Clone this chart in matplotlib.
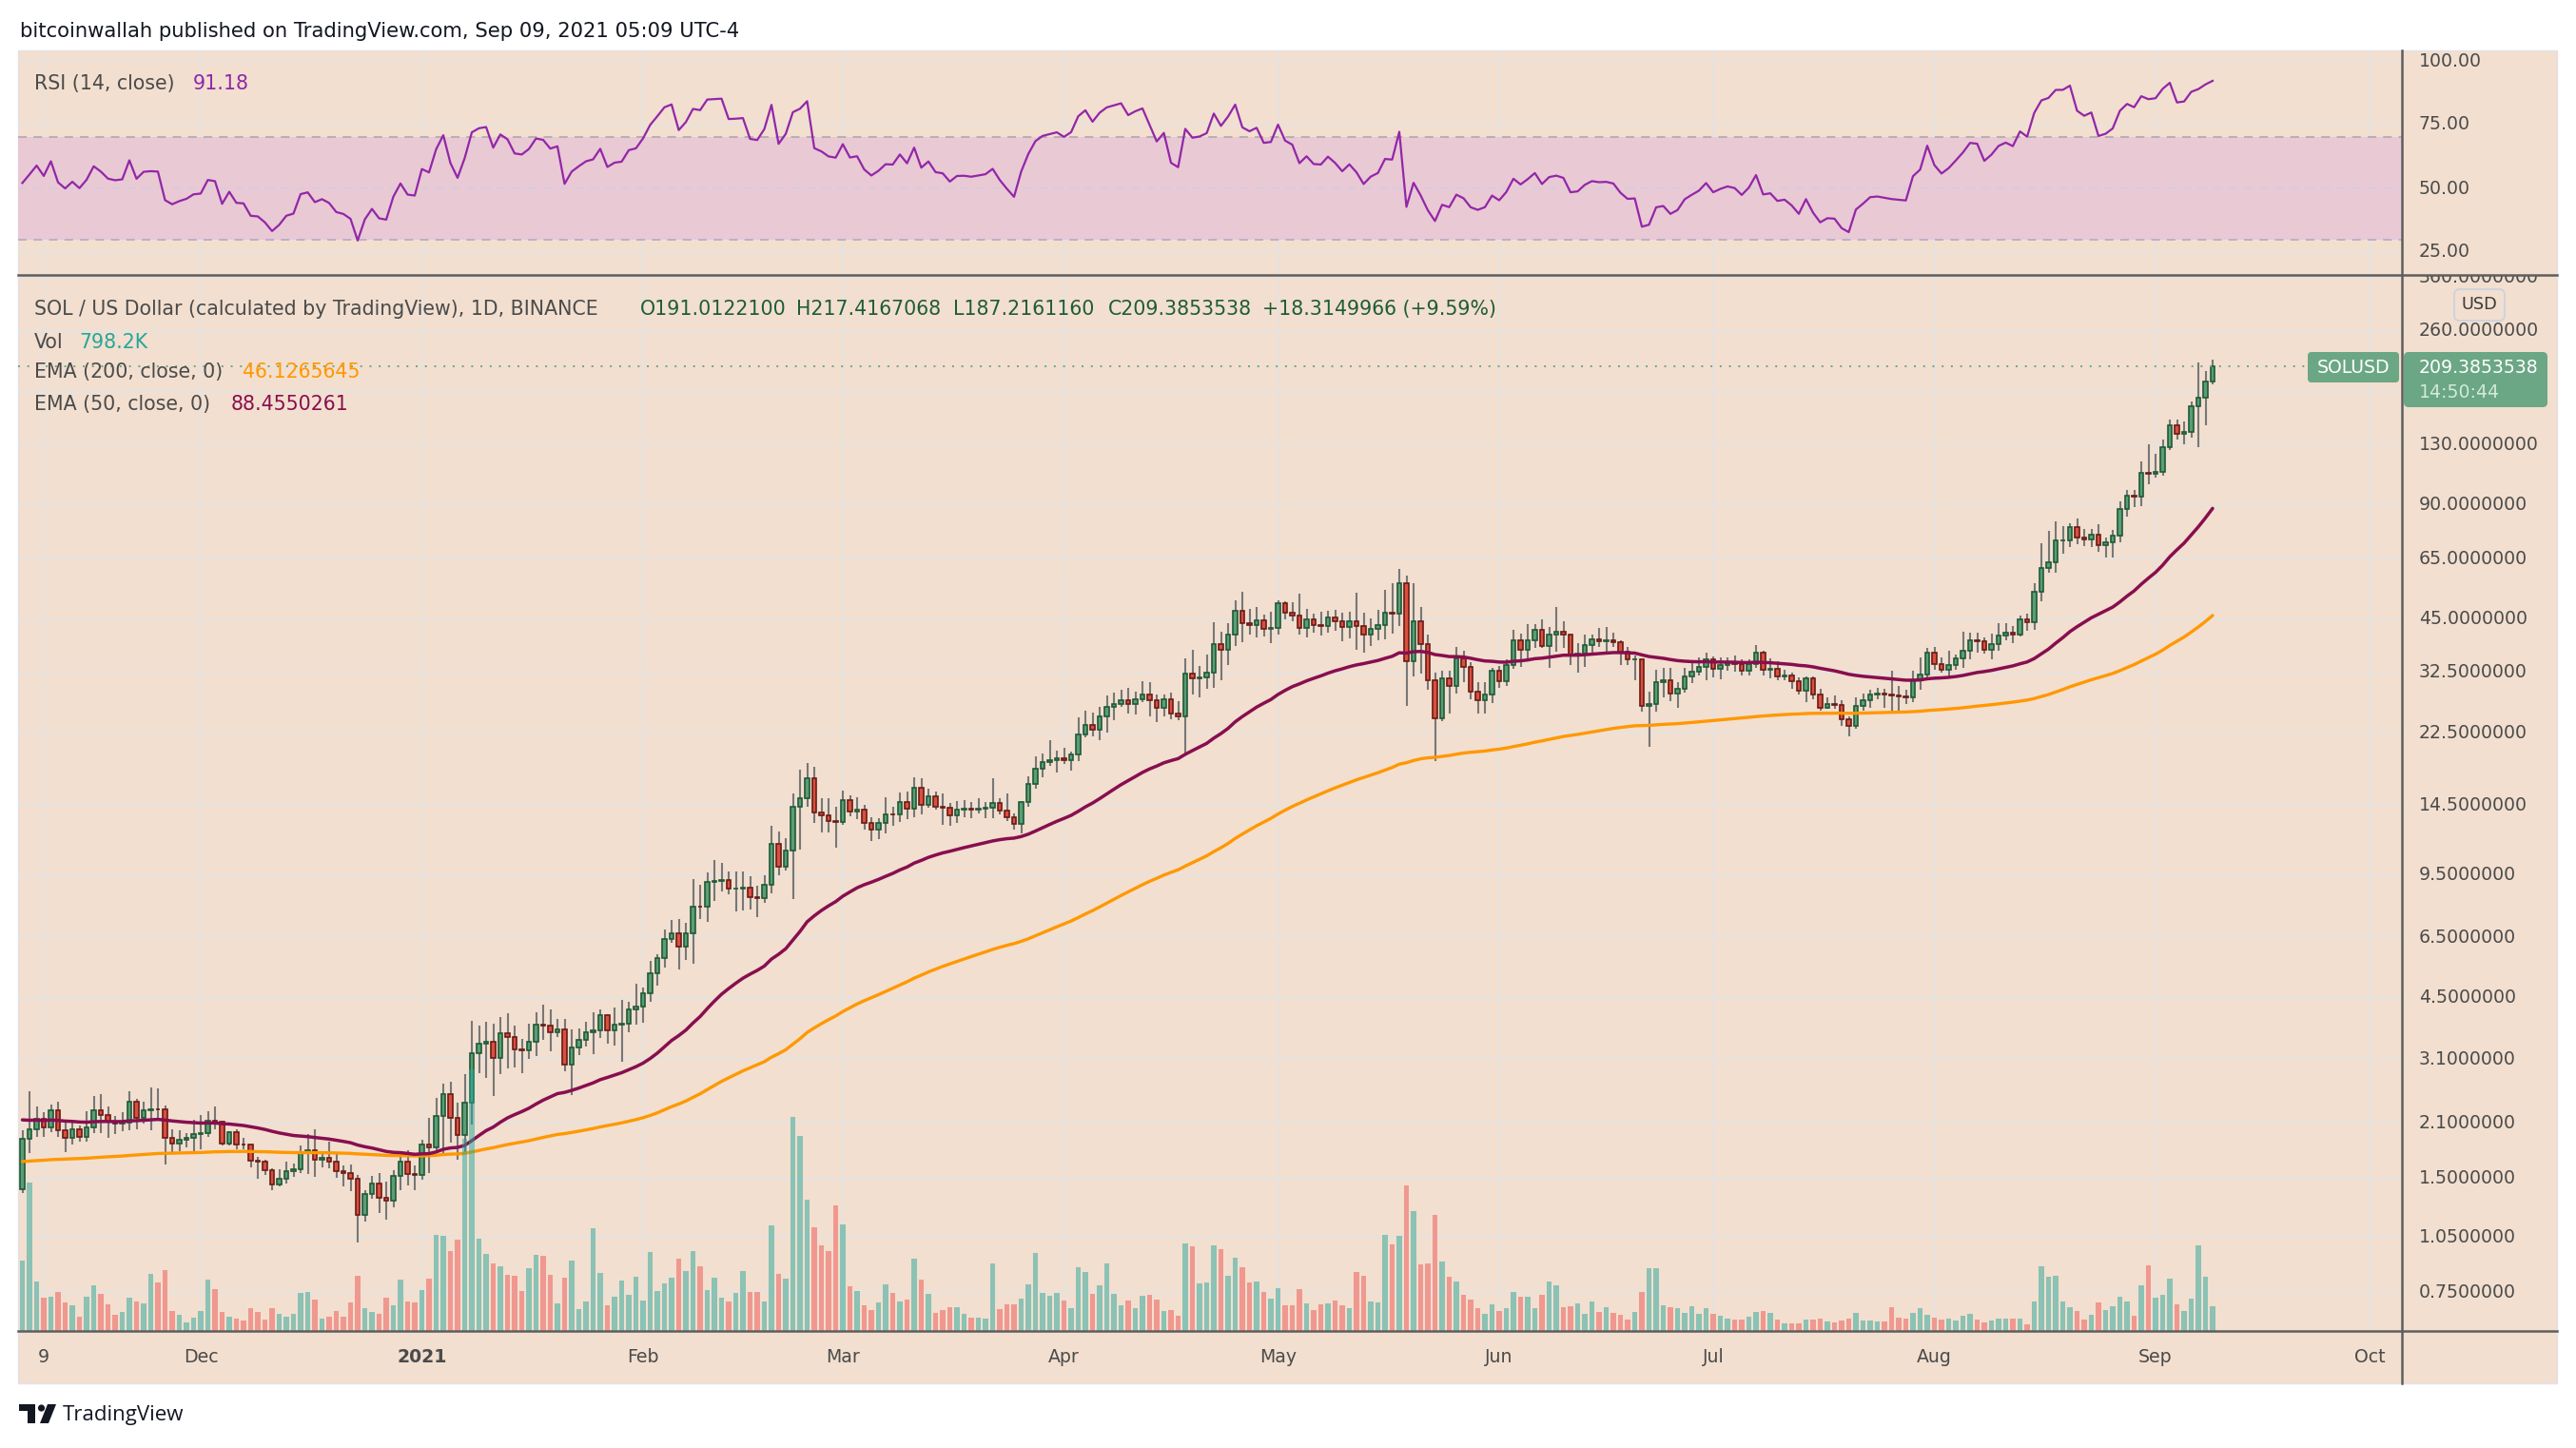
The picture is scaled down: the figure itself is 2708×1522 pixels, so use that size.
import numpy as np
import pandas as pd
import matplotlib
matplotlib.use("Agg")
import matplotlib.pyplot as plt
import matplotlib.dates as mdates
import matplotlib.transforms as mtransforms
from matplotlib import font_manager as fm
from matplotlib.lines import Line2D
from matplotlib.patches import Rectangle, FancyBboxPatch, Circle, Polygon

W, H = 2708, 1522

def have(name):
    try:
        fm.findfont(fm.FontProperties(family=name), fallback_to_default=False)
        return True
    except Exception:
        return False

if have("Liberation Sans Narrow"):
    FONT, FS = "Liberation Sans Narrow", 1.0
else:
    FONT, FS = "DejaVu Sans", 0.8
plt.rcParams['font.family'] = [FONT, 'DejaVu Sans']

# ---------------- data (SOL/USD daily, Binance) ----------------
START = "2020-11-06"
FIRST_OPEN = 1.404
CLOSE = [1.905, 2.025, 2.159, 2.041, 2.274, 2.006, 1.919, 2.017, 1.93, 2.049, 2.265, 2.2, 2.113,
         2.093, 2.105, 2.384, 2.167, 2.274, 2.283, 2.279, 1.919, 1.857, 1.893,
         1.919, 1.968, 1.976, 2.125, 2.113, 1.857, 1.987, 1.847, 1.84, 1.671,
         1.662, 1.577, 1.443, 1.494, 1.57, 1.588, 1.763, 1.78, 1.677, 1.703,
         1.664, 1.568, 1.547, 1.494, 1.199, 1.362, 1.454, 1.33, 1.312, 1.52,
         1.664, 1.538, 1.527, 1.847, 1.811, 2.188, 2.505, 2.167, 1.949, 2.374,
         3.217, 3.396, 3.45, 3.113, 3.627, 3.54, 3.28, 3.26, 3.436, 3.813,
         3.79, 3.647, 3.72, 2.99, 3.33, 3.49, 3.64, 3.70, 4.04, 3.68,
         3.81, 3.84, 4.2, 4.26, 4.616, 5.23, 5.74, 6.42, 6.67, 6.14,
         6.67, 7.84, 7.81, 9.10, 9.17, 9.23, 8.72, 8.75, 8.8, 8.28,
         8.25, 8.94, 11.49, 9.98, 11.01, 14.40, 15.17, 17.13, 13.88, 13.61,
         13.2, 13.1, 14.99, 13.93, 14.1, 13.02, 12.5, 13.0, 13.72, 13.7,
         14.82, 14.2, 16.1, 14.54, 15.29, 14.4, 14.3, 13.61, 14.15, 14.17,
         14.1, 14.2, 14.3, 14.71, 14.05, 13.49, 12.95, 14.76, 16.48, 18.08,
         18.83, 19.1, 19.35, 19.1, 19.72, 22.35, 23.67, 23.0, 24.94, 26.34,
         26.9, 27.5, 26.8, 27.7, 28.4, 27.4, 26.3, 27.7, 25.3, 24.9,
         32.24, 31.3, 31.6, 32.4, 38.7, 37.3, 40.9, 47.2, 43.9, 43.3,
         44.7, 42.4, 42.7, 49.5, 46.8, 46.1, 42.65, 44.8, 43.3, 43.2,
         45.4, 44.3, 42.8, 44.5, 43.1, 40.9, 42.5, 43.3, 46.7, 46.6,
         55.8, 34.9, 44.3, 38.7, 31.1, 24.6, 31.3, 29.96, 35.4, 33.6,
         28.9, 27.5, 28.5, 32.9, 30.8, 33.96, 39.5, 37.3, 39.5, 42.1,
         38.2, 41.0, 41.6, 40.9, 36.1, 36.4, 38.5, 39.7, 39.4, 39.5,
         39.1, 36.8, 35.2, 35.3, 26.5, 26.9, 30.7, 31.0, 28.6, 29.4,
         31.7, 32.7, 33.6, 35.3, 33.3, 34.0, 34.5, 34.2, 32.9, 34.2,
         36.6, 33.0, 33.2, 31.7, 31.9, 30.8, 29.1, 31.3, 28.5, 26.2,
         26.8, 26.7, 24.5, 23.5, 26.6, 27.5, 28.5, 28.6, 28.4, 28.2,
         28.1, 28.0, 31.1, 32.1, 36.7, 34.2, 33.0, 34.0, 35.5, 37.2,
         39.5, 39.4, 37.3, 38.6, 40.6, 41.4, 41.0, 44.8, 44.2, 53.2,
         61.5, 63.7, 72.5, 72.6, 78.6, 73.9, 72.9, 75.3, 70.4, 71.6,
         74.6, 87.9, 95.5, 94.7, 109.7, 108.9, 110.3, 128.0, 145.9, 138.8,
         140.6, 163.8, 172.6, 191.01221, 209.3853538]
HIGH = [2.006, 2.543, 2.318, 2.239, 2.35, 2.386, 2.146, 2.117, 2.073, 2.25, 2.471, 2.505, 2.318,
        2.196, 2.239, 2.543, 2.43, 2.384, 2.603, 2.588, 2.331, 2.017, 2.006,
        1.98, 2.138, 2.2, 2.261, 2.318, 2.125, 2.002, 2.025, 1.919, 1.84,
        1.71, 1.677, 1.592, 1.582, 1.662, 1.64, 1.833, 1.968, 2.025, 1.763,
        1.875, 1.736, 1.623, 1.633, 1.527, 1.4, 1.52, 1.547, 1.474, 1.577,
        1.77, 1.78, 1.623, 1.893, 2.167, 2.443, 2.666, 2.699, 2.379, 2.826,
        3.902, 3.79, 3.88, 3.85, 4.0, 4.087, 3.79, 3.5, 3.85, 4.13,
        4.313, 4.19, 3.95, 3.95, 3.72, 3.74, 3.89, 4.13, 4.2, 4.07,
        4.23, 4.44, 4.39, 4.89, 4.79, 5.63, 5.87, 6.83, 7.23, 7.27,
        7.09, 9.27, 8.95, 9.63, 10.39, 10.23, 9.67, 9.7, 9.7, 9.43,
        8.9, 9.5, 12.8, 12.35, 11.9, 15.6, 18.0, 18.7, 18.3, 15.1,
        15.1, 14.4, 15.9, 15.4, 15.2, 14.5, 13.5, 13.4, 15.2, 14.4,
        15.7, 15.8, 17.15, 17.1, 16.05, 15.8, 15.6, 14.7, 14.9, 15.0,
        14.8, 15.1, 14.8, 17.1, 15.1, 15.6, 13.8, 14.9, 17.3, 19.5,
        19.9, 21.5, 20.2, 20.6, 20.1, 24.8, 25.8, 25.5, 26.4, 28.3,
        28.7, 29.2, 29.6, 29.0, 30.8, 30.6, 28.5, 28.5, 28.7, 27.3,
        35.4, 37.3, 33.8, 36.2, 44.1, 41.6, 44.0, 50.5, 53.1, 47.8,
        48.3, 46.2, 47.0, 50.5, 50.2, 49.9, 52.4, 47.9, 46.5, 47.0,
        47.4, 47.7, 46.8, 47.0, 52.9, 46.8, 45.2, 47.7, 53.6, 56.0,
        61.2, 58.6, 55.8, 48.3, 41.0, 32.4, 32.9, 32.9, 38.0, 37.1,
        34.7, 30.7, 30.7, 33.5, 33.8, 35.2, 42.2, 41.2, 43.6, 43.6,
        44.9, 43.0, 48.3, 44.3, 40.9, 38.9, 40.9, 41.0, 42.6, 42.8,
        41.4, 39.5, 38.0, 36.0, 35.3, 29.0, 33.1, 33.4, 33.4, 30.7,
        33.4, 34.9, 35.6, 36.7, 35.9, 35.6, 35.6, 36.0, 35.2, 35.2,
        38.5, 37.2, 35.4, 34.8, 33.0, 32.4, 31.5, 31.7, 31.7, 29.4,
        27.9, 28.3, 27.4, 24.9, 27.9, 28.6, 29.2, 29.7, 29.4, 32.8,
        30.0, 29.2, 32.8, 35.6, 37.8, 37.9, 35.6, 37.1, 36.2, 41.6,
        41.5, 41.5, 40.2, 41.1, 44.0, 43.8, 43.2, 46.1, 46.6, 56.1,
        71.4, 76.9, 81.5, 79.2, 80.7, 83.1, 77.6, 77.6, 80.2, 73.9,
        77.2, 92.3, 98.7, 98.7, 117.2, 130.0, 122.9, 133.7, 151.6, 151.6,
        150.0, 169.3, 214.3, 202.9, 217.4167068]
LOW = [1.369, 1.753, 1.93, 1.93, 1.987, 1.926, 1.763, 1.847, 1.875, 1.875, 1.98, 1.98, 1.922,
       1.968, 1.995, 2.013, 2.017, 2.097, 2.013, 2.125, 1.629, 1.763, 1.77,
       1.815, 1.753, 1.793, 1.93, 2.025, 1.833, 1.833, 1.793, 1.787, 1.601,
       1.494, 1.527, 1.4, 1.426, 1.454, 1.512, 1.547, 1.538, 1.512, 1.607,
       1.592, 1.504, 1.432, 1.39, 1.017, 1.151, 1.325, 1.215, 1.165, 1.26,
       1.4, 1.44, 1.4, 1.488, 1.547, 1.77, 1.72, 1.868, 1.677, 1.736,
       2.085, 2.85, 2.77, 2.48, 2.82, 2.93, 2.94, 2.85, 3.096, 3.15,
       3.49, 3.25, 3.54, 2.875, 2.49, 3.17, 3.34, 3.19, 3.53, 3.40,
       3.37, 3.05, 3.65, 3.83, 3.86, 4.38, 4.84, 5.4, 6.3, 5.34,
       5.65, 5.52, 7.27, 7.12, 8.09, 8.6, 8.44, 7.62, 7.63, 7.7,
       7.35, 8.0, 8.48, 9.5, 9.75, 8.2, 11.1, 14.4, 13.0, 12.3,
       12.3, 11.2, 12.9, 13.6, 13.3, 12.5, 11.7, 11.8, 12.2, 12.8,
       13.1, 13.3, 13.45, 13.7, 14.3, 14.1, 12.9, 12.8, 13.0, 13.45,
       13.4, 13.8, 13.4, 13.4, 13.7, 13.15, 12.5, 12.2, 14.4, 16.0,
       17.2, 18.4, 17.7, 18.6, 17.9, 18.95, 21.9, 22.0, 21.6, 22.6,
       24.3, 26.4, 25.3, 25.2, 27.1, 24.9, 24.0, 24.9, 24.5, 24.3,
       19.7, 28.5, 27.9, 29.4, 29.6, 31.0, 34.0, 38.2, 39.2, 41.0,
       40.2, 40.4, 38.9, 41.0, 45.0, 44.5, 41.0, 40.2, 41.5, 40.8,
       41.5, 41.8, 39.4, 40.1, 37.4, 36.6, 38.1, 39.6, 39.7, 41.3,
       43.1, 26.6, 31.7, 32.3, 29.2, 19.0, 24.2, 25.4, 28.6, 30.7,
       27.6, 25.4, 25.3, 27.0, 29.6, 29.9, 33.3, 33.6, 35.2, 37.8,
       37.8, 33.5, 36.9, 37.8, 34.0, 32.5, 33.6, 36.5, 38.0, 36.4,
       38.0, 34.0, 34.0, 31.0, 25.6, 20.7, 25.6, 28.0, 27.3, 26.2,
       28.8, 30.4, 32.0, 31.0, 31.5, 31.2, 32.9, 32.7, 32.0, 32.0,
       33.5, 32.0, 31.4, 31.0, 31.0, 29.5, 28.4, 27.1, 27.6, 25.8,
       26.0, 26.1, 23.5, 22.0, 23.1, 25.8, 26.3, 27.7, 26.3, 25.8,
       25.6, 26.8, 27.2, 29.2, 31.1, 33.0, 32.5, 31.7, 33.0, 33.4,
       35.3, 36.7, 36.5, 35.3, 37.1, 39.5, 38.9, 40.4, 42.0, 42.2,
       50.1, 59.5, 59.5, 66.9, 69.7, 70.9, 70.2, 69.7, 67.7, 65.4,
       65.6, 71.8, 84.1, 89.1, 89.6, 102.0, 106.6, 107.6, 125.6, 134.0,
       130.6, 135.8, 128.0, 145.9, 187.2161160]
VOLUME_K = [2272, 4789, 1596, 1075, 1105, 1259, 921, 829, 461, 1105, 1474, 1197, 860, 522, 614, 1075,
            952, 890, 1842, 1566, 1965, 645, 522, 276, 430, 645, 1658, 1351, 614, 461, 399, 338,
            737, 614, 368, 737, 553, 461, 553, 1228, 1259, 1013, 399, 461, 645, 461, 921, 1781,
            737, 614, 553, 1075, 829, 1658, 952, 921, 1320, 1689, 3101, 3070, 2579, 2947, 6201, 8443,
            2978, 2487, 2180, 2088, 1811, 1781, 1289, 2026, 2456, 2425,
            1811, 890, 1719, 2272, 706, 952, 3316, 1873, 829, 1105,
            1627, 1167, 1750, 982, 2548, 1289, 1535, 1719, 2333, 1934,
            2579, 2088, 1320, 1719, 1075, 952, 1228, 1934, 1259, 1259,
            952, 3408, 1842, 1689, 6908, 6294, 4237, 3346, 2763, 2579,
            4052, 3438, 1443, 1289, 829, 675, 921, 1504, 1228, 952,
            1013, 2333, 1658, 1197, 583, 675, 768, 768, 553, 430,
            430, 399, 2180, 706, 860, 860, 1044, 1504, 2517, 1228,
            1136, 1228, 982, 737, 2057, 1903, 1197, 1474, 2180, 1197,
            829, 982, 737, 1136, 1167, 1013, 645, 675, 491, 2824,
            2732, 1535, 1566, 2763, 2640, 1781, 2364, 2057, 1566, 1596,
            1259, 1044, 1382, 829, 829, 1351, 890, 675, 860, 890, 982,
            829, 737, 1903, 1781, 952, 921, 3101, 2794, 3070, 4697,
            3868, 2149, 2180, 3745, 2241, 1750, 1596, 1167, 1013, 737,
            553, 860, 645, 737, 1259, 1105, 1105, 737, 1167, 1596,
            1474, 768, 798, 890, 553, 952, 614, 768, 583, 522,
            368, 614, 1259, 2026, 2026, 829, 768, 737, 583, 798,
            553, 737, 553, 491, 399, 368, 368, 461, 614, 645,
            583, 368, 246, 246, 246, 368, 368, 399, 307, 276,
            338, 399, 583, 338, 338, 307, 307, 768, 430, 399,
            583, 737, 522, 430, 368, 399, 338, 491, 553, 368,
            276, 338, 399, 399, 399, 399, 215, 952, 2088, 1750,
            1781, 952, 768, 645, 368, 522, 921, 675, 798, 1105,
            952, 491, 1474, 2118, 1075, 1167, 1689, 860, 645, 1044,
            2763, 1750, 798]
EMA200_SEED, EMA50_SEED = 1.66, 2.15
RSI_SEED_GAIN, RSI_SEED_LOSS = 0.03, 0.063

PRICE_TICKS = [360, 260, 180, 130, 90, 65, 45, 32.5, 22.5, 14.5, 9.5, 6.5, 4.5, 3.1, 2.1, 1.5, 1.05, 0.75]
HIDDEN_LABELS = [180]          # label sits under the price badge
RSI_TICKS = [100, 75, 50, 25]
TIME_TICKS = [("2020-11-09", "9"), ("2020-12-01", "Dec"), ("2021-01-01", "2021"), ("2021-02-01", "Feb"),
              ("2021-03-01", "Mar"), ("2021-04-01", "Apr"), ("2021-05-01", "May"), ("2021-06-01", "Jun"),
              ("2021-07-01", "Jul"), ("2021-08-01", "Aug"), ("2021-09-01", "Sep"), ("2021-10-01", "Oct")]

# ---------------- colours ----------------
BG = "#F2DFCF"; GRID = "#E6E2DF"; SEP = "#5E5E5E"; TXT = "#4B4B4B"
UP_FILL, UP_EDGE = "#5B9D76", "#1E5A36"
DN_FILL, DN_EDGE = "#D9503F", "#6B1A16"
WICK = "#777777"
EMA50_C, EMA200_C = "#880E4F", "#FF9800"
RSI_C = "#9326A8"; BAND = "#E8C9D4"
VOL_UP = (38/255, 166/255, 154/255, 0.5); VOL_DN = (239/255, 83/255, 80/255, 0.5)
PRICE_GREEN = "#6BA784"

# ---------------- indicators ----------------
def ema(vals, n, seed):
    a = 2 / (n + 1); e = seed; out = []
    for v in vals:
        e += a * (v - e); out.append(e)
    return np.array(out)

def rsi(vals, prev, n, g, l):
    out = []
    for v in vals:
        d = v - prev; prev = v
        g = (g * (n - 1) + max(d, 0)) / n
        l = (l * (n - 1) + max(-d, 0)) / n
        out.append(100 - 100 / (1 + g / l))
    return np.array(out)

dates = pd.date_range(START, periods=len(CLOSE), freq="D")
x = mdates.date2num(dates)
c = np.array(CLOSE)
o = np.array([FIRST_OPEN] + CLOSE[:-1])
h = np.maximum.reduce([np.array(HIGH), o, c])
l = np.minimum.reduce([np.array(LOW), o, c])
up = c >= o
e200 = ema(CLOSE, 200, EMA200_SEED)
e50 = ema(CLOSE, 50, EMA50_SEED)
r14 = rsi(CLOSE, FIRST_OPEN, 14, RSI_SEED_GAIN, RSI_SEED_LOSS)

# ---------------- layout (pixel geometry of the screenshot) ----------------
fig = plt.figure(figsize=(W / 100, H / 100), dpi=100, facecolor="white")
PX = mtransforms.Affine2D().scale(1 / W, -1 / H).translate(0, 1) + fig.transFigure

def px_axes(x0, y0, x1, y1):
    a = fig.add_axes([x0 / W, 1 - y1 / H, (x1 - x0) / W, (y1 - y0) / H])
    a.axis("off")
    return a

L, R, AXR = 19, 2525, 2688
TOP, MID, BOT, FOOT = 53, 289, 1399, 1454
fig.add_artist(Rectangle((L, TOP), AXR - L, FOOT - TOP, transform=PX, fc=BG, ec="#E3E1E4", lw=1, zorder=-10))

X9 = mdates.date2num(pd.Timestamp("2020-11-09"))
XLIM = (X9 + (L - 46) / 7.5, X9 + (R - 46) / 7.5)
# log price scale: 260 at y=347.5, 398 px per decade
YLIM = (260 * 10 ** (-(BOT - 347.5) / 398), 260 * 10 ** ((347.5 - MID) / 398))
RLIM = (25 - (MID - 265) / 2.68, 100 + (64 - TOP) / 2.68)

ax_r = px_axes(L, TOP, R, MID)
ax = px_axes(L, MID, R, BOT)
ax_v = ax.twinx(); ax_v.axis("off")
for a in (ax_r, ax, ax_v):
    a.set_xlim(*XLIM)
ax.set_yscale("log"); ax.set_ylim(*YLIM)
ax_r.set_ylim(*RLIM)
ax_v.set_ylim(0, (BOT - MID) * 30.7)

tick_x = [mdates.date2num(pd.Timestamp(d)) for d, _ in TIME_TICKS]
for a in (ax_r, ax):
    for tx in tick_x:
        a.axvline(tx, color=GRID, lw=1.5, zorder=0)
for p in PRICE_TICKS:
    ax.axhline(p, color=GRID, lw=1.5, zorder=0)
for v in RSI_TICKS:
    ax_r.axhline(v, color=GRID, lw=1.5, zorder=0)

# RSI pane
ax_r.axhspan(30, 70, color=BAND, lw=0, zorder=0.5)
ax_r.axhline(70, color="#B3ABAE", lw=1.3, ls=(0, (5, 4)), zorder=1)
ax_r.axhline(50, color="#D9CCDF", lw=1.3, ls=(0, (5, 4)), zorder=1)
ax_r.axhline(30, color="#B7AEC9", lw=1.3, ls=(0, (5, 4)), zorder=1)
ax_r.plot(x, r14, color=RSI_C, lw=1.6, zorder=3)

# candles
ax.vlines(x, l, h, color=WICK, lw=1.5, zorder=2)
lo, hi = np.minimum(o, c), np.maximum(o, c)
ax.bar(x[up], (hi - lo)[up], bottom=lo[up], width=0.58, color=UP_FILL, edgecolor=UP_EDGE, lw=1.2, zorder=3)
ax.bar(x[~up], (hi - lo)[~up], bottom=lo[~up], width=0.58, color=DN_FILL, edgecolor=DN_EDGE, lw=1.2, zorder=3)
ax.plot(x, e200, color=EMA200_C, lw=2.4, zorder=4, solid_capstyle="round")
ax.plot(x, e50, color=EMA50_C, lw=2.5, zorder=4, solid_capstyle="round")
ax.axhline(CLOSE[-1], xmax=(2426 - L) / (R - L), color=PRICE_GREEN, lw=1.4, ls=(0, (1, 4)), zorder=4)
ax_v.bar(x, VOLUME_K, width=0.7, color=[VOL_UP if u else VOL_DN for u in up], lw=0)

# price scale / rsi scale labels
ax_ps = px_axes(R, MID, AXR, BOT); ax_ps.set_yscale("log"); ax_ps.set_ylim(*YLIM); ax_ps.set_xlim(0, AXR - R)
for p in PRICE_TICKS:
    if p in HIDDEN_LABELS:
        continue
    ax_ps.text(18, p, f"{p:.7f}", color=TXT, fontsize=17 * FS, va="center", ha="left", clip_on=True)
ax_rs = px_axes(R, TOP, AXR, MID); ax_rs.set_ylim(*RLIM); ax_rs.set_xlim(0, AXR - R)
for v in RSI_TICKS:
    ax_rs.text(18, v, f"{v:.2f}", color=TXT, fontsize=17 * FS, va="center", ha="left", clip_on=True)

# time labels
tblend = mtransforms.blended_transform_factory(ax.transData, PX)
for tx, (_, lab) in zip(tick_x, TIME_TICKS):
    fig.text(tx, 1426, lab, transform=tblend, color=TXT, fontsize=17 * FS, ha="center", va="center",
             fontweight=("bold" if lab == "2021" else "normal"))

# separators
for (xa, xb, ya, yb) in [(L, AXR, MID, MID), (L, AXR, BOT, BOT), (R, R, TOP, FOOT)]:
    fig.add_artist(Line2D([xa, xb], [ya, yb], transform=PX, color=SEP, lw=1.8, zorder=6))

# current price badges
fig.add_artist(FancyBboxPatch((2426, 370), 96, 32, boxstyle="round,pad=0,rounding_size=4",
                              transform=PX, fc=PRICE_GREEN, ec="none", zorder=7))
fig.add_artist(FancyBboxPatch((2527, 370), 151, 58, boxstyle="round,pad=0,rounding_size=5",
                              transform=PX, fc=PRICE_GREEN, ec="none", zorder=7))
fig.text(2474, 386, "SOLUSD", transform=PX, color="white", fontsize=17 * FS, ha="center", va="center", zorder=8)
fig.text(2543, 386, f"{CLOSE[-1]:.7f}", transform=PX, color="white", fontsize=17 * FS, va="center", zorder=8)
fig.text(2543, 412, "14:50:44", transform=PX, color="#D3EADB", fontsize=17 * FS, va="center", zorder=8)
fig.add_artist(FancyBboxPatch((2580, 304), 53, 33, boxstyle="round,pad=0,rounding_size=6",
                              transform=PX, fc=BG, ec="#CDD2DD", lw=1.3, zorder=7))
fig.text(2606, 320, "USD", transform=PX, color="#3C3C3C", fontsize=16 * FS, ha="center", va="center", zorder=8)

# header, legends
LFS = 18.5 * FS
fig.text(21, 33, "bitcoinwallah published on TradingView.com, Sep 09, 2021 05:09 UTC-4", transform=PX,
         color="#131722", fontsize=19 * FS, va="center")
fig.text(36, 88, "RSI (14, close)", transform=PX, color=TXT, fontsize=LFS, va="center")
fig.text(203, 88, "91.18", transform=PX, color=RSI_C, fontsize=LFS, va="center")
OHLC_G = "#1F5C38"
fig.text(36, 325, "SOL / US Dollar (calculated by TradingView), 1D, BINANCE", transform=PX, color=TXT,
         fontsize=LFS, va="center")
for xx, s in [(673, f"O{CLOSE[-2]:.7f}"), (837, f"H{HIGH[-1]:.7f}"), (1002, f"L{LOW[-1]:.7f}"),
              (1165, f"C{CLOSE[-1]:.7f}"), (1327, "+18.3149966 (+9.59%)")]:
    fig.text(xx, 325, s, transform=PX, color=OHLC_G, fontsize=LFS, va="center")
fig.text(36, 360, "Vol", transform=PX, color=TXT, fontsize=LFS, va="center")
fig.text(83, 360, "798.2K", transform=PX, color="#26A69A", fontsize=LFS, va="center")
fig.text(36, 391, "EMA (200, close, 0)", transform=PX, color=TXT, fontsize=LFS, va="center")
fig.text(255, 391, "46.1265645", transform=PX, color=EMA200_C, fontsize=LFS, va="center")
fig.text(36, 425, "EMA (50, close, 0)", transform=PX, color=TXT, fontsize=LFS, va="center")
fig.text(243, 425, "88.4550261", transform=PX, color=EMA50_C, fontsize=LFS, va="center")

# TradingView footer logo
K = "#131722"
fig.add_artist(Rectangle((20, 1476), 17, 7, transform=PX, fc=K, ec="none"))
fig.add_artist(Rectangle((29, 1476), 8, 20, transform=PX, fc=K, ec="none"))
fig.add_artist(Circle((43.5, 1480), 3.6, transform=PX, fc=K, ec="none"))
fig.add_artist(Polygon([(50, 1476), (59, 1476), (51, 1496), (42, 1496)], transform=PX, fc=K, ec="none"))
fig.text(66, 1487, "TradingView", transform=PX, color=K, fontsize=20 * FS, va="center", family=["Open Sans", "DejaVu Sans"])

fig.savefig("out.png", dpi=100, facecolor="white")
